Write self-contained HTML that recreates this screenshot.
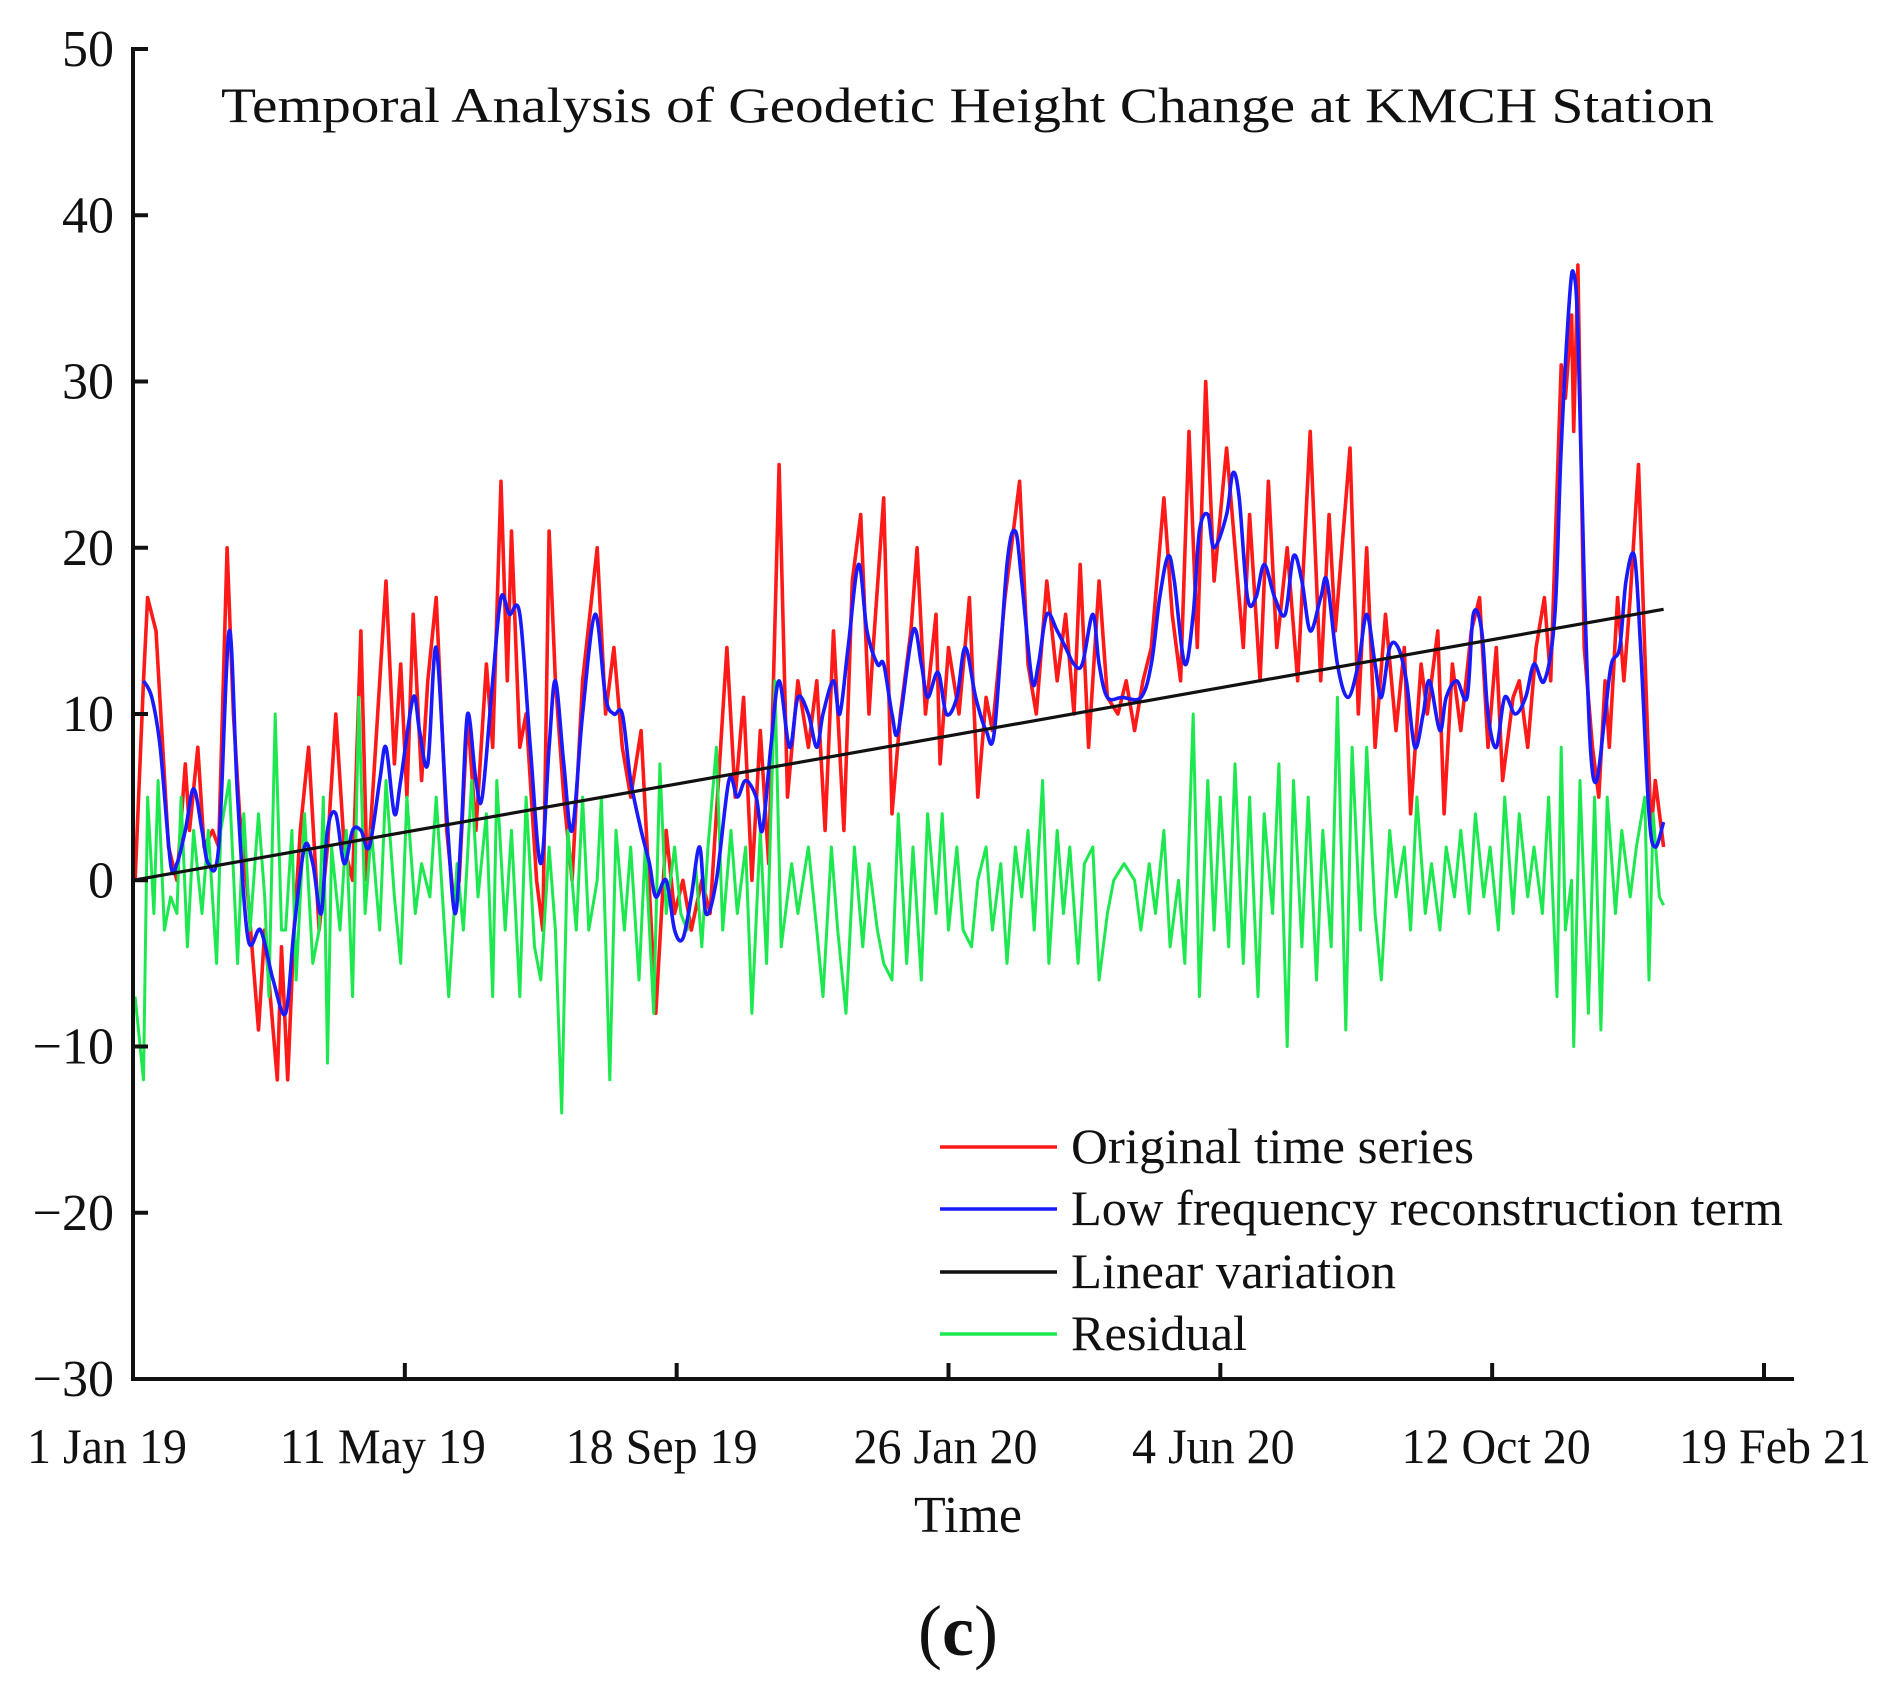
<!DOCTYPE html>
<html><head><meta charset="utf-8"><style>
html,body{margin:0;padding:0;background:#fff;}
svg{display:block;}
text{font-family:"Liberation Serif",serif;fill:#111;}
</style></head><body>
<svg id="chart" width="1894" height="1681" viewBox="0 0 1894 1681" xmlns="http://www.w3.org/2000/svg">
<text x="221" y="122" font-size="50" textLength="1493" lengthAdjust="spacingAndGlyphs">Temporal Analysis of Geodetic Height Change at KMCH Station</text>
<g id="series"></g>
<g id="axes"></g>
<g>
<line x1="940" y1="1147" x2="1057" y2="1147" stroke="#ff1a1a" stroke-width="3.5"/>
<text x="1071" y="1163" font-size="50" textLength="403" lengthAdjust="spacingAndGlyphs">Original time series</text>
<line x1="940" y1="1209" x2="1057" y2="1209" stroke="#1a1aff" stroke-width="3.5"/>
<text x="1071" y="1225" font-size="50" textLength="712" lengthAdjust="spacingAndGlyphs">Low frequency reconstruction term</text>
<line x1="940" y1="1272" x2="1057" y2="1272" stroke="#111" stroke-width="3.5"/>
<text x="1071" y="1288" font-size="50" textLength="325" lengthAdjust="spacingAndGlyphs">Linear variation</text>
<line x1="940" y1="1334" x2="1057" y2="1334" stroke="#1ee850" stroke-width="3.5"/>
<text x="1071" y="1350" font-size="50" textLength="176" lengthAdjust="spacingAndGlyphs">Residual</text>
</g>
<text x="968" y="1532" font-size="52" text-anchor="middle">Time</text>
<text x="958" y="1655" font-size="72" text-anchor="middle"><tspan font-weight="normal">(</tspan><tspan font-weight="bold">c</tspan><tspan font-weight="normal">)</tspan></text>
</svg>
<script>
const yTicks = [50,40,30,20,10,0,-10,-20,-30];
const yTickLabels = ["50","40","30","20","10","0","\u221210","\u221220","\u221230"];
const xTicks = [0,130,260,390,520,650,780];
const xTickLabels = ["1 Jan 19","11 May 19","18 Sep 19","26 Jan 20","4 Jun 20","12 Oct 20","19 Feb 21"];

const redDays = [1,5,7,11,17,21,25,27,31,34,38,41,45,48,51,55,60,63,69,71,74,77,80,84,89,93,97,101,105,109,112,116,121,125,128,131,134,138,141,145,150,154,156,160,164,169,172,176,179,181,185,188,193,196,199,202,206,210,215,222,226,230,234,238,243,250,255,259,263,267,272,276,284,288,292,296,300,304,309,313,318,323,327,331,335,340,344,348,352,354,359,363,367,372,375,379,384,386,390,395,400,404,408,411,417,424,428,432,437,442,446,450,453,457,462,466,471,475,479,483,487,493,497,501,505,509,513,517,523,527,531,534,539,543,547,552,557,563,568,572,575,582,586,590,594,599,604,608,611,616,619,624,627,631,635,640,644,648,652,655,660,663,667,671,675,678,683,685,688,689,691,694,698,701,704,706,710,713,716,720,724,726,728,732];
const redVals = [0,12,17,15,2,0,7,3,8,2,3,2,20,10,4,-1,-9,-3,-12,-4,-12,-3,3,8,-3,2,10,2,0,15,0,8,18,7,13,5,16,6,12,17,3,-2,0,10,3,13,8,24,12,21,8,10,0,-3,21,12,5,0,12,20,10,14,8,5,9,-8,3,-2,0,-3,0,-2,14,5,11,0,9,1,25,5,12,8,12,3,15,3,18,22,10,14,23,4,10,15,20,10,16,7,14,10,17,5,11,9,17,24,13,10,18,12,16,10,19,8,18,11,10,12,9,12,14,23,16,12,27,14,30,18,26,20,14,22,12,24,14,20,12,27,12,22,15,26,10,20,8,16,9,14,4,13,10,15,4,13,9,15,17,8,14,6,11,12,8,14,17,12,31,29,34,27,37,14,8,5,12,8,17,12,17,25,10,3,6,2];

const blueDays = [5,9,13,18,21,25,29,33,36,41,46,50,55,61,67,73,77,82,86,90,93,97,101,105,109,113,118,121,125,128,134,137,141,145,150,154,157,160,164,167,172,176,180,185,190,195,199,202,206,210,215,221,226,230,234,238,243,247,250,255,259,263,267,271,274,279,285,289,293,298,301,305,309,314,318,323,327,330,335,338,342,347,351,356,359,363,366,373,377,380,385,389,394,398,403,408,412,418,422,425,430,433,437,442,446,450,454,459,462,466,473,482,487,491,495,498,503,507,510,514,517,523,526,529,533,537,541,546,551,555,559,563,568,571,576,581,586,590,594,597,601,605,609,613,617,620,625,628,633,638,641,645,648,652,656,661,666,670,675,680,683,687,689,691,694,697,700,704,707,711,714,718,721,725,728,732];
const blueVals = [12,11,8,1,1,3,5.5,3,1,2,15,5,-3.5,-3,-6,-8,-3,2,1,-2,3,4,1,3,3,2,6,8,4,6,11,9,7,14,4,-2,3,10,6,5,12,17,16,16,8,1,8,12,7,3,10,16,11,10,10,6,3,1,-1,0,-3,-3.5,-1,2,-2,0,6,5,6,5,3,8,12,8,11,10,8,10,12,10,14,19,15,13,13,10,9,15,13,11,12.5,10,11,14,11,9,9,19,21,18,12,13,16,15,14,13,13,16,13,11,11,11,13,17,19.5,18,13,16,21,22,20,22,24.5,23,17,17,19,17,16,19.5,18,15,17,18,13,11,13,16,13,11,14,14,12,8,10,12,9,11,12,11,16,15,10,8,11,10,11,13,12,16,26,35,36.5,33,18,8,6,10,13,14,18,19.5,14,4,2,3.5];

const greenDays = [1,5,7,10,12,15,18,21,23,26,29,33,36,40,42,46,50,53,56,60,63,65,68,71,73,76,78,82,86,89,91,93,95,99,102,105,108,111,114,118,121,125,128,131,135,138,142,145,149,151,155,158,162,165,169,172,174,178,181,185,188,192,195,199,202,205,208,212,215,218,222,224,228,231,235,238,242,245,249,252,255,259,262,265,269,272,275,279,282,286,289,293,296,300,303,307,310,315,318,323,327,330,334,337,341,345,349,352,356,359,363,366,370,373,377,380,384,387,390,394,397,401,404,408,411,415,418,422,425,428,431,435,438,442,445,448,452,455,459,462,466,469,474,479,482,486,489,493,496,500,503,507,510,514,517,520,524,527,531,534,538,541,545,548,552,555,559,562,566,569,573,576,580,583,587,590,594,597,601,604,608,611,614,618,621,625,628,632,635,639,642,646,649,653,656,660,663,667,670,674,677,681,683,685,688,689,692,696,699,702,705,709,712,716,719,723,725,727,730,732];
const greenVals = [-7,-12,5,-2,6,-3,-1,-2,5,-4,3,-2,3,-5,3,6,-5,4,-3,4,-1,-7,10,-3,-3,3,-6,4,-5,-3,5,-11,2,-3,3,-7,11,-2,3,-3,6,-1,-5,5,-2,1,-1,5,-3,-7,1,-3,6,-1,4,-7,6,-3,3,-7,5,-4,-6,2,-3,-14,3,-3,5,-3,0,5,-12,3,-3,2,-6,2,-8,7,-2,2,-2,-3,1,-4,2,8,-3,3,-2,2,-8,3,-5,12,-4,1,-2,2,-3,-7,2,-3,-8,2,-4,1,-3,-5,-6,4,-5,2,-6,4,-2,4,-3,2,-3,-4,0,2,-3,1,-5,2,-1,3,-3,6,-5,3,-2,2,-5,1,2,-6,-2,0,1,0,-3,1,-2,3,-4,0,-5,10,-7,6,-3,5,-4,7,-5,5,-7,4,-2,7,-10,6,-4,5,-6,3,-4,11,-9,8,-3,8,-2,-6,3,-1,2,-3,5,-2,1,-3,2,-1,3,-2,4,-1,2,-3,5,-2,4,-1,2,-2,5,-7,8,-3,0,-10,6,-8,5,-9,5,-2,3,-1,2,5,-6,4,-1,-1.5];

const linearDays = [0,732];
const linearVals = [0,16.3];

const NS='http://www.w3.org/2000/svg';
const X0=133, X1=1764, Y0=49, Y1=1379;
function xScale(d){return X0+(d-xTicks[0])*(X1-X0)/(xTicks[xTicks.length-1]-xTicks[0]);}
function yScale(v){return Y1-(v-(-30))*(Y1-Y0)/80;}
const series=document.getElementById('series');
const axes=document.getElementById('axes');

function polyline(days, vals, color, w, name){
  const p=document.createElementNS(NS,'polyline');
  p.setAttribute('points', days.map((d,i)=>xScale(d).toFixed(1)+','+yScale(vals[i]).toFixed(1)).join(' '));
  p.setAttribute('fill','none');
  p.setAttribute('stroke',color);
  p.setAttribute('stroke-width',w);
  p.setAttribute('stroke-linejoin','round');
  
  
  series.appendChild(p);
}
function smooth(days, vals, color, w, name){
  const pts=days.map((d,i)=>[xScale(d),yScale(vals[i])]);
  let s='M'+pts[0][0].toFixed(1)+','+pts[0][1].toFixed(1);
  for(let i=0;i<pts.length-1;i++){
    const p0=pts[Math.max(0,i-1)],p1=pts[i],p2=pts[i+1],p3=pts[Math.min(pts.length-1,i+2)];
    const c1x=p1[0]+(p2[0]-p0[0])/6,c1y=p1[1]+(p2[1]-p0[1])/6;
    const c2x=p2[0]-(p3[0]-p1[0])/6,c2y=p2[1]-(p3[1]-p1[1])/6;
    s+=' C'+c1x.toFixed(1)+','+c1y.toFixed(1)+' '+c2x.toFixed(1)+','+c2y.toFixed(1)+' '+p2[0].toFixed(1)+','+p2[1].toFixed(1);
  }
  const p=document.createElementNS(NS,'path');
  p.setAttribute('d',s);
  p.setAttribute('fill','none');
  p.setAttribute('stroke',color);
  p.setAttribute('stroke-width',w);
  
  
  series.appendChild(p);
}
polyline(redDays, redVals, '#ff1a1a', 3.6, 'original-series-line');
polyline(greenDays, greenVals, '#1ee850', 3, 'residual-series-line');
smooth(blueDays, blueVals, '#1a1aff', 3.6, 'low-frequency-series-line');
polyline(linearDays, linearVals, '#111', 3.2, 'linear-variation-line');

const ax=document.createElementNS(NS,'path');
ax.setAttribute('d','M'+(X0+15)+','+Y0+' H'+X0+' V'+Y1+' H1794');
ax.setAttribute('fill','none');
ax.setAttribute('stroke','#111');
ax.setAttribute('stroke-width','4');


axes.appendChild(ax);
yTicks.forEach((v,i)=>{
  const y=yScale(v);
  const t=document.createElementNS(NS,'line');
  t.setAttribute('x1',X0);t.setAttribute('x2',X0+15);t.setAttribute('y1',y);t.setAttribute('y2',y);
  t.setAttribute('stroke','#111');t.setAttribute('stroke-width','4');
  
  
  axes.appendChild(t);
  const l=document.createElementNS(NS,'text');
  l.setAttribute('x',114);l.setAttribute('y',y+17);
  l.setAttribute('text-anchor','end');l.setAttribute('font-size','52');
  l.textContent=yTickLabels[i];
  
  
  axes.appendChild(l);
});
const xLabelShift=[-26,-22,-15,-3,-7,4,11];
xTicks.forEach((d,i)=>{
  const x=xScale(d);
  const t=document.createElementNS(NS,'line');
  t.setAttribute('x1',x);t.setAttribute('x2',x);t.setAttribute('y1',Y1);t.setAttribute('y2',Y1-16);
  t.setAttribute('stroke','#111');t.setAttribute('stroke-width','4');
  
  
  axes.appendChild(t);
  const l=document.createElementNS(NS,'text');
  l.setAttribute('x',x+xLabelShift[i]);l.setAttribute('y',1463);
  l.setAttribute('text-anchor','middle');l.setAttribute('font-size','50');
  l.setAttribute('transform','translate('+(x+xLabelShift[i])+',0) scale(0.96,1) translate('+(-(x+xLabelShift[i]))+',0)');
  l.textContent=xTickLabels[i];
  
  
  axes.appendChild(l);
});
</script>
</body></html>
